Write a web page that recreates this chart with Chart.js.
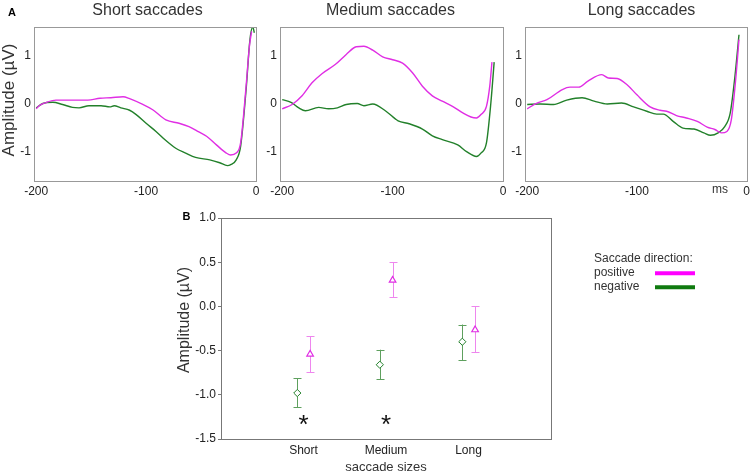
<!DOCTYPE html>
<html><head><meta charset="utf-8">
<script src="https://cdn.jsdelivr.net/npm/chart.js@4/dist/chart.umd.min.js"></script>
<style>
html,body{margin:0;padding:0;background:#fff;}
#wrap{position:relative;width:753px;height:475px;overflow:hidden;background:#fff;}
canvas{position:absolute;left:0;top:0;width:753px;height:475px;}
</style></head><body>
<div id="wrap">
<canvas id="c1" width="753" height="475"></canvas>
<canvas id="c2" width="753" height="475"></canvas>
<canvas id="c3" width="753" height="475"></canvas>
<canvas id="c4" width="753" height="475"></canvas>
</div>
<script>
// ---------- Panel A data (time in ms, amplitude in µV) ----------
const shortPosT = [-200,-197,-191,-182,-170,-153,-142,-132,-121,-115,-103,-94,-82,-70,-61,-52,-45,-36,-27,-23,-18,-14,-9,-6,-4];
const shortPosV = [-0.10,-0.03,0.03,0.08,0.08,0.08,0.12,0.13,0.15,0.11,-0.01,-0.12,-0.33,-0.40,-0.47,-0.58,-0.67,-0.85,-1.02,-1.06,-1.02,-0.81,0.37,1.20,1.51];
const shortNegT = [-200,-194,-185,-176,-167,-161,-152,-141,-133,-129,-123,-115,-109,-100,-91,-82,-73,-64,-55,-42,-33,-26,-23,-18,-14,-9,-5.5,-3,-1.5];
const shortNegV = [-0.08,0.01,0.035,-0.01,-0.07,-0.08,-0.035,-0.035,-0.06,-0.035,-0.08,-0.13,-0.22,-0.40,-0.57,-0.76,-0.92,-1.02,-1.11,-1.16,-1.22,-1.28,-1.26,-1.16,-0.88,0.30,1.34,1.60,1.48];

const mediumPosT = [-200,-191,-182,-173,-164,-152,-142,-133,-126,-118,-109,-100,-91,-82,-73,-64,-55,-45,-36,-29,-24,-20,-15,-12,-10];
const mediumPosV = [-0.10,-0.01,0.17,0.44,0.63,0.82,1.03,1.19,1.20,1.12,0.98,0.92,0.85,0.65,0.37,0.17,0.06,-0.06,-0.19,-0.27,-0.29,-0.22,-0.05,0.37,0.87];
const mediumNegT = [-200,-192,-185,-179,-167,-158,-150,-142,-132,-126,-118,-106,-95,-85,-73,-64,-55,-41,-33,-24,-20,-15,-11,-8];
const mediumNegV = [0.09,0.035,-0.08,-0.14,-0.07,-0.10,-0.08,-0.01,0.01,-0.035,0.0,-0.15,-0.35,-0.41,-0.52,-0.66,-0.74,-0.85,-0.99,-1.09,-1.02,-0.81,0.02,0.87];

const longPosT = [-200,-192,-182,-168,-161,-153,-145,-132,-126,-118,-109,-100,-88,-79,-73,-64,-55,-45,-36,-29,-23,-18,-14,-10,-7];
const longPosV = [-0.10,0.01,0.09,0.30,0.35,0.35,0.47,0.61,0.54,0.53,0.40,0.19,-0.06,-0.13,-0.15,-0.24,-0.29,-0.36,-0.48,-0.53,-0.60,-0.57,-0.33,0.51,1.34];
const longNegT = [-200,-188,-176,-164,-150,-139,-127,-114,-103,-91,-82,-76,-67,-58,-48,-39,-33,-26,-20,-15,-11,-7];
const longNegV = [-0.01,0.0,-0.01,0.08,0.13,0.06,0.0,0.02,-0.06,-0.15,-0.21,-0.21,-0.36,-0.50,-0.52,-0.60,-0.65,-0.60,-0.47,-0.19,0.51,1.44];

const panelTitles = ['Short saccades','Medium saccades','Long saccades'];
const xTicksA = [-200,-100,0];
const yTicksA = [-1,0,1];

// ---------- Panel B data ----------
const sizes = ['Short','Medium','Long'];
const negMean = [-0.98,-0.66,-0.40];
const negLo   = [-1.14,-0.825,-0.61];
const negHi   = [-0.81,-0.49,-0.205];
const posMean = [-0.54,0.295,-0.265];
const posLo   = [-0.745,0.107,-0.52];
const posHi   = [-0.34,0.50,0.0];
const significant = [true,true,false];
const sigLevel = -1.265;
const yTicksB = [-1.5,-1.0,-0.5,0.0,0.5,1.0];
const legendTitle = 'Saccade direction:';
const legendLabels = ['positive','negative'];

// ---------- styles ----------
const FONT = "'Liberation Sans', Arial, sans-serif";
const MAGENTA = '#e02ee4';
const GREEN = '#22802a';
const MAG_ERR = '#ee86ee';
const GRN_ERR = '#5ea05e';
const TXT = '#222';

const zip = (t, v) => t.map((x, i) => ({x: x, y: v[i]}));

function boxPlugin(color) {
  return { id: 'box', afterDatasetsDraw(chart) {
    const a = chart.chartArea, ctx = chart.ctx;
    ctx.save(); ctx.strokeStyle = color; ctx.lineWidth = 1;
    ctx.strokeRect(Math.round(a.left) + 0.5, Math.round(a.top) + 0.5,
                   Math.round(a.right) - Math.round(a.left), Math.round(a.bottom) - Math.round(a.top));
    ctx.restore();
  }};
}
function textPlugin(items) {
  return { id: 'texts', afterDraw(chart) {
    const ctx = chart.ctx;
    items.forEach(it => {
      ctx.save();
      ctx.font = it.font; ctx.fillStyle = it.color || TXT;
      ctx.textAlign = it.align || 'center'; ctx.textBaseline = it.baseline || 'middle';
      ctx.translate(it.x, it.y); if (it.rot) ctx.rotate(it.rot);
      ctx.fillText(it.text, 0, 0);
      ctx.restore();
    });
  }};
}

const TOP = 27, BOTTOM = 181, YW = 30, XH = 22;

function panelA(id, L, R, posT, posV, negT, negV, texts) {
  new Chart(document.getElementById(id), {
    type: 'line',
    data: { datasets: [
      { label: 'positive', data: zip(posT, posV), borderColor: MAGENTA, borderWidth: 1.4, pointRadius: 0, cubicInterpolationMode: 'monotone', fill: false },
      { label: 'negative', data: zip(negT, negV), borderColor: GREEN, borderWidth: 1.4, pointRadius: 0, cubicInterpolationMode: 'monotone', fill: false }
    ]},
    options: {
      responsive: false, animation: false, devicePixelRatio: 1,
      layout: { padding: { left: L - YW, right: 753 - R, top: TOP, bottom: 475 - BOTTOM - XH } },
      plugins: { legend: { display: false }, tooltip: { enabled: false } },
      scales: {
        x: { type: 'linear', min: -202, max: 0,
             afterBuildTicks: s => { s.ticks = xTicksA.map(v => ({value: v})); },
             afterFit: s => { s.height = XH; },
             grid: { display: false, drawTicks: false }, border: { display: false },
             ticks: { padding: 3, color: TXT, font: { family: FONT, size: 12 }, maxRotation: 0, autoSkip: false } },
        y: { type: 'linear', min: -1.6, max: 1.6,
             afterBuildTicks: s => { s.ticks = yTicksA.map(v => ({value: v})); },
             afterFit: s => { s.width = YW; },
             grid: { display: false, drawTicks: false }, border: { display: false },
             ticks: { padding: 3, color: TXT, font: { family: FONT, size: 12 } } }
      }
    },
    plugins: [boxPlugin('#999'), textPlugin(texts)]
  });
}

panelA('c1', 34, 256, shortPosT, shortPosV, shortNegT, shortNegV, [
  { text: 'A', x: 12, y: 13, font: 'bold 11px ' + FONT, color: '#000' },
  { text: panelTitles[0], x: 147.5, y: 15, baseline: 'alphabetic', font: '16px ' + FONT, color: '#333' },
  { text: 'Amplitude (µV)', x: 9.5, y: 100, rot: -Math.PI / 2, font: '17px ' + FONT, color: '#333' }
]);
panelA('c2', 280, 503, mediumPosT, mediumPosV, mediumNegT, mediumNegV, [
  { text: panelTitles[1], x: 390.5, y: 15, baseline: 'alphabetic', font: '16px ' + FONT, color: '#333' }
]);
panelA('c3', 525, 747, longPosT, longPosV, longNegT, longNegV, [
  { text: panelTitles[2], x: 641.5, y: 15, baseline: 'alphabetic', font: '16px ' + FONT, color: '#333' },
  { text: 'ms', x: 720, y: 190, font: '12px ' + FONT, color: '#333' }
]);

// ---------- Panel B ----------
const errPlugin = { id: 'err', beforeDatasetsDraw(chart) {
  const ctx = chart.ctx, ys = chart.scales.y;
  chart.data.datasets.forEach((ds, i) => {
    const meta = chart.getDatasetMeta(i);
    meta.data.forEach((el, j) => {
      const x = Math.round(el.x) + 0.5;
      const yl = ys.getPixelForValue(ds.lo[j]), yh = ys.getPixelForValue(ds.hi[j]);
      ctx.save(); ctx.strokeStyle = ds.errColor; ctx.lineWidth = 1;
      ctx.beginPath();
      ctx.moveTo(x, yl); ctx.lineTo(x, yh);
      ctx.moveTo(x - 4, Math.round(yl) + 0.5); ctx.lineTo(x + 4, Math.round(yl) + 0.5);
      ctx.moveTo(x - 4, Math.round(yh) + 0.5); ctx.lineTo(x + 4, Math.round(yh) + 0.5);
      ctx.stroke(); ctx.restore();
    });
  });
}};
const sigPlugin = { id: 'sig', afterDatasetsDraw(chart) {
  const ctx = chart.ctx, xs = chart.scales.x, ys = chart.scales.y;
  significant.forEach((s, i) => {
    if (!s) return;
    ctx.save(); ctx.fillStyle = '#111'; ctx.font = '26px ' + FONT;
    ctx.textAlign = 'center'; ctx.textBaseline = 'alphabetic';
    ctx.fillText('*', xs.getPixelForValue(i + 1), ys.getPixelForValue(sigLevel) + 0.57 * 26);
    ctx.restore();
  });
}};
const legendPlugin = { id: 'leg', afterDraw(chart) {
  const ctx = chart.ctx;
  ctx.save();
  ctx.font = '12px ' + FONT; ctx.fillStyle = '#333'; ctx.textAlign = 'left'; ctx.textBaseline = 'middle';
  ctx.fillText(legendTitle, 594, 258.5);
  legendLabels.forEach((lab, i) => {
    const y = 273 + i * 14;
    ctx.fillStyle = '#333'; ctx.fillText(lab, 594, y - 0.5);
    ctx.strokeStyle = i === 0 ? '#ff00ff' : '#0f7a0f'; ctx.lineWidth = 4;
    ctx.beginPath(); ctx.moveTo(655, y + 0.3); ctx.lineTo(695, y + 0.3); ctx.stroke();
  });
  ctx.restore();
}};

const BL = 221, BR = 551, BT = 218, BB = 439;
new Chart(document.getElementById('c4'), {
  type: 'scatter',
  data: { datasets: [
    { label: 'negative', data: sizes.map((s, i) => ({x: i + 1 - 0.075, y: negMean[i]})), lo: negLo, hi: negHi, errColor: GRN_ERR,
      pointStyle: 'rectRot', pointRadius: 3.6, borderColor: GREEN, backgroundColor: '#fff', borderWidth: 1 },
    { label: 'positive', data: sizes.map((s, i) => ({x: i + 1 + 0.08, y: posMean[i]})), lo: posLo, hi: posHi, errColor: MAG_ERR,
      pointStyle: 'triangle', pointRadius: 3.8, borderColor: MAGENTA, backgroundColor: '#fff', borderWidth: 1.2 }
  ]},
  options: {
    responsive: false, animation: false, devicePixelRatio: 1,
    layout: { padding: { left: BL - 40, right: 753 - BR, top: BT, bottom: 475 - BB - 22 } },
    plugins: { legend: { display: false }, tooltip: { enabled: false } },
    scales: {
      x: { type: 'linear', min: 0, max: 4,
           afterBuildTicks: s => { s.ticks = sizes.map((c, i) => ({value: i + 1})); },
           afterFit: s => { s.height = 22; },
           grid: { display: false, drawTicks: false }, border: { display: false },
           ticks: { padding: 4, color: TXT, font: { family: FONT, size: 12 }, maxRotation: 0, autoSkip: false,
                    callback: v => sizes[Math.round(v) - 1] } },
      y: { type: 'linear', min: -1.5, max: 1.0,
           afterBuildTicks: s => { s.ticks = yTicksB.map(v => ({value: v})); },
           afterFit: s => { s.width = 40; },
           grid: { display: true, drawOnChartArea: false, drawTicks: true, tickLength: 3, color: '#777' },
           border: { display: false },
           ticks: { padding: 2, color: TXT, font: { family: FONT, size: 12 }, callback: v => v.toFixed(1) } }
    }
  },
  plugins: [errPlugin, sigPlugin, boxPlugin('#777'), legendPlugin, textPlugin([
    { text: 'B', x: 186.5, y: 217, font: 'bold 11px ' + FONT, color: '#000' },
    { text: 'Amplitude (µV)', x: 185, y: 320, rot: -Math.PI / 2, font: '16px ' + FONT, color: '#333' },
    { text: 'saccade sizes', x: 386, y: 467, font: '13px ' + FONT, color: '#333' }
  ])]
});
</script>
</body></html>
